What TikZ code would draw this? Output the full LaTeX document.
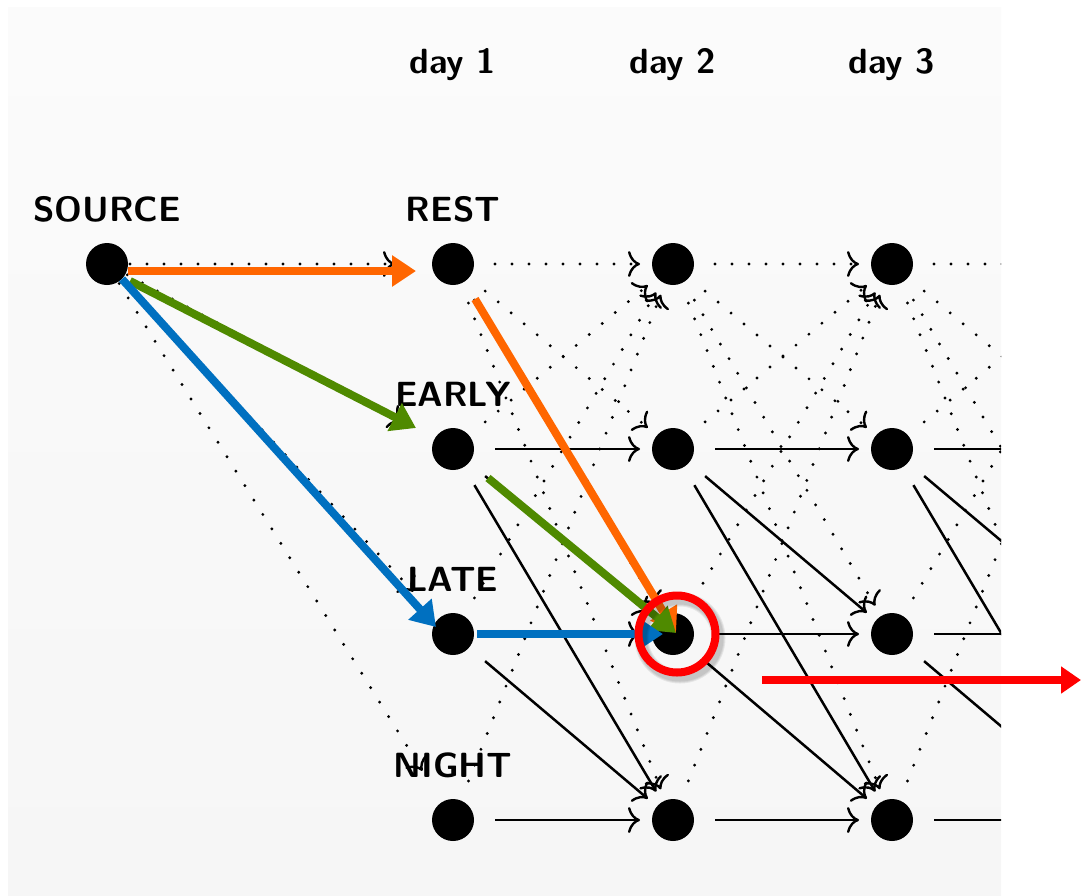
\documentclass[tikz,border=0pt]{standalone}
\usetikzlibrary{arrows.meta,calc}
\definecolor{bgtop}{RGB}{251,251,251}
\definecolor{bgbot}{RGB}{246,246,246}
\definecolor{pathorange}{RGB}{255,102,0}
\definecolor{pathgreen}{RGB}{79,138,0}
\definecolor{pathblue}{RGB}{0,112,192}
\definecolor{hlred}{RGB}{255,0,0}
\begin{document}
\begin{tikzpicture}[x=0.5pt,y=-0.5pt,
  state/.style={circle, fill=black, inner sep=0pt, outer sep=0pt, minimum size=21pt},
  lbl/.style={font=\sffamily\bfseries\fontsize{17.5}{21}\selectfont, inner sep=0pt, anchor=base},
  cmtip/.tip={Computer Modern Rightarrow[length=6pt,width=13pt,line width=1.2pt]},
  move/.style={line width=1.25pt, shorten <=10.5pt, shorten >=6pt, -cmtip},
  idle/.style={line width=1.6pt, line cap=round, dash pattern=on 0pt off 8.5pt,
               shorten <=10.5pt, shorten >=6pt, -cmtip},
  start/.style={idle, shorten <=1pt, shorten >=18.5pt},
  fat/.style={line width=4pt, -{Triangle[length=12pt,width=15pt]}},
  ring/.style={circle, draw=hlred, line width=4pt, inner sep=0pt, minimum size=38.5pt}]

\useasboundingbox (0,0) rectangle (1081,895);

\begin{scope}
  \clip (8,7) rectangle (1001,895);
  \fill[top color=bgtop, bottom color=bgbot] (8,7) rectangle (1001,895);

  % source and the daily shift states
  \node[state] (s) at (107,264) {};
  \foreach \k/\x in {1/453,2/673,3/892,4/1112} {
    \node[state] (r\k) at (\x,264) {};
    \node[state] (e\k) at (\x,449) {};
    \node[state] (l\k) at (\x,634) {};
    \node[state] (n\k) at (\x,820) {};
  }

  % headings
  \node[lbl] (d1) at (453,73) {day 1};
  \node[lbl] (d2) at (673,73) {day 2};
  \node[lbl] (d3) at (892,73) {day 3};
  \node[lbl] (ls) at (107,221) {SOURCE};
  \node[lbl] (lr) at (453,221) {REST};
  \node[lbl] (le) at (453,406) {EARLY};
  \node[lbl] (ll) at (453,591) {LATE};
  \node[lbl] (ln) at (453,777) {NIGHT};

  % first day choices
  \draw[start] (s) -- (r1);
  \draw[start] (s) -- (e1);
  \draw[start] (s) -- (l1);
  \draw[start] (s) -- (n1);

  % transitions between consecutive days
  \foreach \k/\j in {1/2,2/3,3/4} {
    \draw[idle] (r\k) -- (r\j);
    \draw[idle] (r\k) -- (e\j);
    \draw[idle] (r\k) -- (l\j);
    \draw[idle] (r\k) -- (n\j);
    \draw[idle] (e\k) -- (r\j);
    \draw[idle] (l\k) -- (r\j);
    \draw[idle] (n\k) -- (r\j);
    \draw[move] (e\k) -- (e\j);
    \draw[move] (e\k) -- (l\j);
    \draw[move] (e\k) -- (n\j);
    \draw[move] (l\k) -- (l\j);
    \draw[move] (l\k) -- (n\j);
    \draw[move] (n\k) -- (n\j);
  }

  % highlighted paths into LATE on day 2
  \draw[fat, pathorange] ([shift={(21,7)}]s.center) -- ([shift={(-37,7)}]r1.center);
  \draw[fat, pathgreen] ([shift={(23,17)}]s.center) -- ([shift={(-37,-21)}]e1.center);
  \draw[fat, pathblue] ([shift={(15,15)}]s.center) -- ([shift={(-17,-7)}]l1.center);
  \draw[fat, pathorange] ([shift={(22,35)}]r1.center) -- ([shift={(3,-1)}]l2.center);
  \draw[fat, pathgreen] ([shift={(35,29)}]e1.center) -- ([shift={(3,-1)}]l2.center);
  \draw[fat, pathblue] ([shift={(24,0)}]l1.center) -- ([shift={(-10,0)}]l2.center);

  % marked state with a soft shadow
  \coordinate (ringc) at ([xshift=2pt]l2.center);
  \foreach \w in {7pt,6pt,5pt} {
    \draw[black, opacity=0.07, line width=\w] ([shift={(3,4)}]ringc) circle[radius=19.25pt];
  }
  \node[ring] (hl) at (ringc) {};
\end{scope}

% pointer to the right
\coordinate (p0) at (762,680);
\coordinate (p1) at (1081,680);
\draw[line width=4pt, hlred, -{Triangle[length=10pt,width=13pt]}] (p0) -- (p1);
\end{tikzpicture}
\end{document}
